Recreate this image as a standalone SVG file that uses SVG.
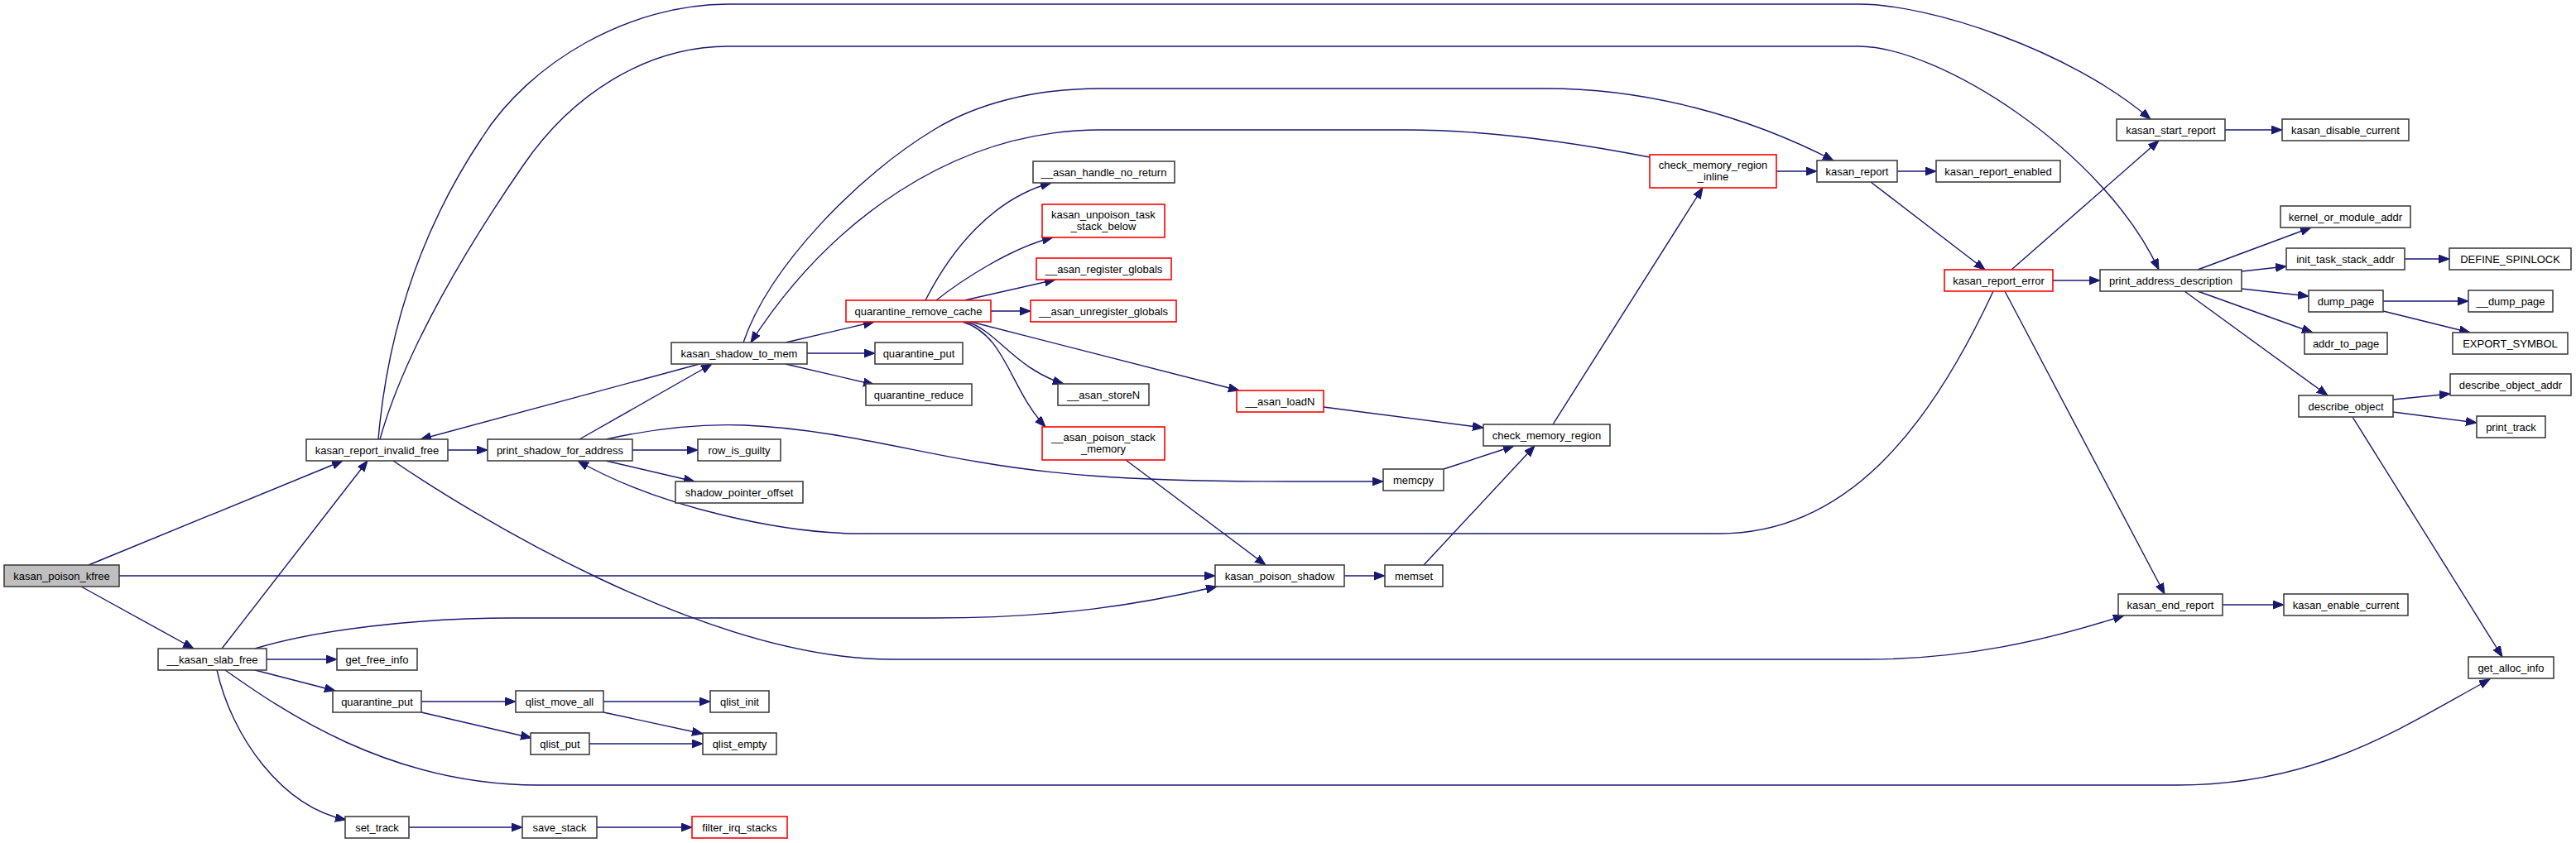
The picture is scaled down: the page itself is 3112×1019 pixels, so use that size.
<svg xmlns="http://www.w3.org/2000/svg" width="3112" height="1019" viewBox="0 0 3112 1019">
<style>
.e{fill:none;stroke:#191970;stroke-width:1.4;marker-end:url(#a)}
.n rect{fill:#fff;stroke:#404040;stroke-width:1.6}
.r rect{stroke:#ff0000}
.g rect{fill:#bfbfbf}
text{font-family:"Liberation Sans",Arial,sans-serif;font-size:13px;text-anchor:middle;fill:#000}
</style>
<defs>
<marker id="a" markerWidth="15" markerHeight="12" refX="13" refY="5" orient="auto" markerUnits="userSpaceOnUse">
<path d="M0,0 L13,5 L0,10 z" fill="#191970" stroke="#191970" stroke-width="1"/>
</marker>
</defs>
<rect width="3112" height="1019" fill="#fff"/>
<g id="edges">
<path class="e" d="M107,683 L414,557"/>
<path class="e" d="M144,696 L1468,696"/>
<path class="e" d="M98,709 L234,784"/>
<path class="e" d="M268,784 L444,557"/>
<path class="e" d="M308,784 C380,762 500,747 620,747 L1128,747 C1280,747 1380,730 1470,709"/>
<path class="e" d="M322,797 L407,797"/>
<path class="e" d="M308,810 L405,835"/>
<path class="e" d="M272,810 C340,858 470,949 650,949 L2630,949 C2800,949 2900,880 3008,821"/>
<path class="e" d="M262,810 C280,890 340,975 418,991"/>
<path class="e" d="M509,848 L623,848"/>
<path class="e" d="M509,861 L642,892"/>
<path class="e" d="M729,848 L858,848"/>
<path class="e" d="M729,861 L849,887"/>
<path class="e" d="M712,899 L849,899"/>
<path class="e" d="M494,1000 L631,1000"/>
<path class="e" d="M721,1000 L836,1000"/>
<path class="e" d="M541,544 L589,544"/>
<path class="e" d="M457,531 C470,380 520,260 582,167 C640,75 760,5 880,5 L2246,5 C2330,5 2500,60 2598,144"/>
<path class="e" d="M459,531 C490,420 570,290 632,200 C690,115 780,56 880,56 L2246,56 C2340,56 2540,180 2608,326"/>
<path class="e" d="M475,557 C560,615 850,797 1078,797 L2256,797 C2370,797 2470,775 2566,744"/>
<path class="e" d="M700,531 L860,440"/>
<path class="e" d="M764,544 L843,544"/>
<path class="e" d="M732,557 L839,582"/>
<path class="e" d="M732,531 C790,518 850,512 900,514 C1000,518 1100,545 1180,558 C1260,572 1350,582 1560,582 L1671,582"/>
<path class="e" d="M2408,352 C2330,520 2230,645 2077,645 L1040,645 C950,645 800,615 698,557"/>
<path class="e" d="M845,440 L508,531"/>
<path class="e" d="M949,414 L1056,389"/>
<path class="e" d="M975,427 L1057,427"/>
<path class="e" d="M949,440 L1056,465"/>
<path class="e" d="M898,414 C930,320 1040,210 1128,157 C1180,125 1250,107 1330,107 L1868,107 C1990,107 2110,140 2215,194"/>
<path class="e" d="M1993,190 C1900,172 1800,157 1700,157 L1330,157 C1150,157 1000,270 907,414"/>
<path class="e" d="M1118,363 C1150,300 1200,240 1270,221"/>
<path class="e" d="M1131,363 C1160,340 1220,300 1272,287"/>
<path class="e" d="M1165,363 L1275,338"/>
<path class="e" d="M1197,376 L1245,376"/>
<path class="e" d="M1168,389 C1205,400 1225,445 1285,464"/>
<path class="e" d="M1173,389 L1497,472"/>
<path class="e" d="M1163,389 C1215,405 1220,470 1263,516"/>
<path class="e" d="M1360,556 L1529,683"/>
<path class="e" d="M1624,696 L1673,696"/>
<path class="e" d="M1720,683 L1854,539"/>
<path class="e" d="M1744,567 L1829,539"/>
<path class="e" d="M1599,492 L1792,517"/>
<path class="e" d="M1876,513 L2057,227"/>
<path class="e" d="M2146,207 L2195,207"/>
<path class="e" d="M2292,207 L2339,207"/>
<path class="e" d="M2260,220 L2398,326"/>
<path class="e" d="M2480,339 L2537,339"/>
<path class="e" d="M2430,326 L2608,170"/>
<path class="e" d="M2422,352 L2615,718"/>
<path class="e" d="M2688,157 L2757,157"/>
<path class="e" d="M2655,326 L2792,275"/>
<path class="e" d="M2708,328 L2762,322"/>
<path class="e" d="M2708,349 L2789,358"/>
<path class="e" d="M2655,352 L2794,402"/>
<path class="e" d="M2639,352 L2812,478"/>
<path class="e" d="M2905,313 L2959,313"/>
<path class="e" d="M2879,364 L2982,364"/>
<path class="e" d="M2879,376 L2984,402"/>
<path class="e" d="M2891,483 L2960,476"/>
<path class="e" d="M2891,498 L2992,511"/>
<path class="e" d="M2842,504 L3023,794"/>
<path class="e" d="M2685,731 L2759,731"/>
</g>
<g id="kasan_poison_kfree" class="n g"><rect x="5" y="683" width="139" height="26"/><text x="74.5" y="700.5">kasan_poison_kfree</text></g>
<g id="kasan_report_invalid_free" class="n"><rect x="370" y="531" width="171" height="26"/><text x="455.5" y="548.5">kasan_report_invalid_free</text></g>
<g id="print_shadow_for_address" class="n"><rect x="589" y="531" width="175" height="26"/><text x="676.5" y="548.5">print_shadow_for_address</text></g>
<g id="__kasan_slab_free" class="n"><rect x="191" y="784" width="131" height="26"/><text x="256.5" y="801.5">__kasan_slab_free</text></g>
<g id="get_free_info" class="n"><rect x="407" y="784" width="97" height="26"/><text x="455.5" y="801.5">get_free_info</text></g>
<g id="quarantine_put_2" class="n"><rect x="402" y="835" width="107" height="26"/><text x="455.5" y="852.5">quarantine_put</text></g>
<g id="qlist_move_all" class="n"><rect x="623" y="835" width="106" height="26"/><text x="676" y="852.5">qlist_move_all</text></g>
<g id="qlist_put" class="n"><rect x="641" y="886" width="71" height="26"/><text x="676.5" y="903.5">qlist_put</text></g>
<g id="set_track" class="n"><rect x="417" y="987" width="77" height="26"/><text x="455.5" y="1004.5">set_track</text></g>
<g id="save_stack" class="n"><rect x="631" y="987" width="90" height="26"/><text x="676" y="1004.5">save_stack</text></g>
<g id="filter_irq_stacks" class="n r"><rect x="836" y="987" width="115" height="26"/><text x="893.5" y="1004.5">filter_irq_stacks</text></g>
<g id="qlist_init" class="n"><rect x="858" y="835" width="71" height="26"/><text x="893.5" y="852.5">qlist_init</text></g>
<g id="qlist_empty" class="n"><rect x="849" y="886" width="89" height="26"/><text x="893.5" y="903.5">qlist_empty</text></g>
<g id="row_is_guilty" class="n"><rect x="843" y="531" width="100" height="26"/><text x="893" y="548.5">row_is_guilty</text></g>
<g id="shadow_pointer_offset" class="n"><rect x="816" y="582" width="154" height="26"/><text x="893" y="599.5">shadow_pointer_offset</text></g>
<g id="kasan_shadow_to_mem" class="n"><rect x="811" y="414" width="164" height="26"/><text x="893" y="431.5">kasan_shadow_to_mem</text></g>
<g id="quarantine_put" class="n"><rect x="1057" y="414" width="106" height="26"/><text x="1110" y="431.5">quarantine_put</text></g>
<g id="quarantine_reduce" class="n"><rect x="1046" y="464" width="128" height="26"/><text x="1110" y="481.5">quarantine_reduce</text></g>
<g id="quarantine_remove_cache" class="n r"><rect x="1022" y="363" width="175" height="26"/><text x="1109.5" y="380.5">quarantine_remove_cache</text></g>
<g id="__asan_handle_no_return" class="n"><rect x="1248" y="195" width="171" height="26"/><text x="1333.5" y="212.5">__asan_handle_no_return</text></g>
<g id="kasan_unpoison_task_stack_below" class="n r"><rect x="1259" y="247" width="148" height="40"/><text x="1333" y="264">kasan_unpoison_task</text><text x="1333" y="277.5">_stack_below</text></g>
<g id="__asan_register_globals" class="n r"><rect x="1252" y="312" width="163" height="26"/><text x="1333.5" y="329.5">__asan_register_globals</text></g>
<g id="__asan_unregister_globals" class="n r"><rect x="1245" y="363" width="176" height="26"/><text x="1333" y="380.5">__asan_unregister_globals</text></g>
<g id="__asan_storeN" class="n"><rect x="1278" y="464" width="110" height="26"/><text x="1333" y="481.5">__asan_storeN</text></g>
<g id="__asan_loadN" class="n r"><rect x="1494" y="472" width="105" height="26"/><text x="1546.5" y="489.5">__asan_loadN</text></g>
<g id="__asan_poison_stack_memory" class="n r"><rect x="1259" y="516" width="148" height="40"/><text x="1333" y="533">__asan_poison_stack</text><text x="1333" y="546.5">_memory</text></g>
<g id="kasan_poison_shadow" class="n"><rect x="1468" y="683" width="156" height="26"/><text x="1546" y="700.5">kasan_poison_shadow</text></g>
<g id="memcpy" class="n"><rect x="1671" y="567" width="73" height="26"/><text x="1707.5" y="584.5">memcpy</text></g>
<g id="memset" class="n"><rect x="1673" y="683" width="70" height="26"/><text x="1708" y="700.5">memset</text></g>
<g id="check_memory_region" class="n"><rect x="1792" y="513" width="153" height="26"/><text x="1868.5" y="530.5">check_memory_region</text></g>
<g id="check_memory_region_inline" class="n r"><rect x="1993" y="187" width="153" height="40"/><text x="2069.5" y="204">check_memory_region</text><text x="2069.5" y="217.5">_inline</text></g>
<g id="kasan_report" class="n"><rect x="2195" y="194" width="97" height="26"/><text x="2243.5" y="211.5">kasan_report</text></g>
<g id="kasan_report_enabled" class="n"><rect x="2339" y="194" width="150" height="26"/><text x="2414" y="211.5">kasan_report_enabled</text></g>
<g id="kasan_start_report" class="n"><rect x="2557" y="144" width="131" height="26"/><text x="2622.5" y="161.5">kasan_start_report</text></g>
<g id="kasan_disable_current" class="n"><rect x="2757" y="144" width="153" height="26"/><text x="2833.5" y="161.5">kasan_disable_current</text></g>
<g id="kasan_report_error" class="n r"><rect x="2349" y="326" width="131" height="26"/><text x="2414.5" y="343.5">kasan_report_error</text></g>
<g id="print_address_description" class="n"><rect x="2537" y="326" width="171" height="26"/><text x="2622.5" y="343.5">print_address_description</text></g>
<g id="kernel_or_module_addr" class="n"><rect x="2755" y="249" width="157" height="26"/><text x="2833.5" y="266.5">kernel_or_module_addr</text></g>
<g id="init_task_stack_addr" class="n"><rect x="2762" y="300" width="143" height="26"/><text x="2833.5" y="317.5">init_task_stack_addr</text></g>
<g id="DEFINE_SPINLOCK" class="n"><rect x="2959" y="300" width="147" height="26"/><text x="3032.5" y="317.5">DEFINE_SPINLOCK</text></g>
<g id="dump_page" class="n"><rect x="2789" y="351" width="90" height="26"/><text x="2834" y="368.5">dump_page</text></g>
<g id="__dump_page" class="n"><rect x="2982" y="351" width="102" height="26"/><text x="3033" y="368.5">__dump_page</text></g>
<g id="addr_to_page" class="n"><rect x="2784" y="402" width="100" height="26"/><text x="2834" y="419.5">addr_to_page</text></g>
<g id="EXPORT_SYMBOL" class="n"><rect x="2963" y="402" width="139" height="26"/><text x="3032.5" y="419.5">EXPORT_SYMBOL</text></g>
<g id="describe_object_addr" class="n"><rect x="2960" y="452" width="146" height="26"/><text x="3033" y="469.5">describe_object_addr</text></g>
<g id="describe_object" class="n"><rect x="2777" y="478" width="114" height="26"/><text x="2834" y="495.5">describe_object</text></g>
<g id="print_track" class="n"><rect x="2992" y="503" width="83" height="26"/><text x="3033.5" y="520.5">print_track</text></g>
<g id="kasan_end_report" class="n"><rect x="2559" y="718" width="126" height="26"/><text x="2622" y="735.5">kasan_end_report</text></g>
<g id="kasan_enable_current" class="n"><rect x="2759" y="718" width="150" height="26"/><text x="2834" y="735.5">kasan_enable_current</text></g>
<g id="get_alloc_info" class="n"><rect x="2982" y="794" width="103" height="26"/><text x="3033.5" y="811.5">get_alloc_info</text></g>
</svg>
